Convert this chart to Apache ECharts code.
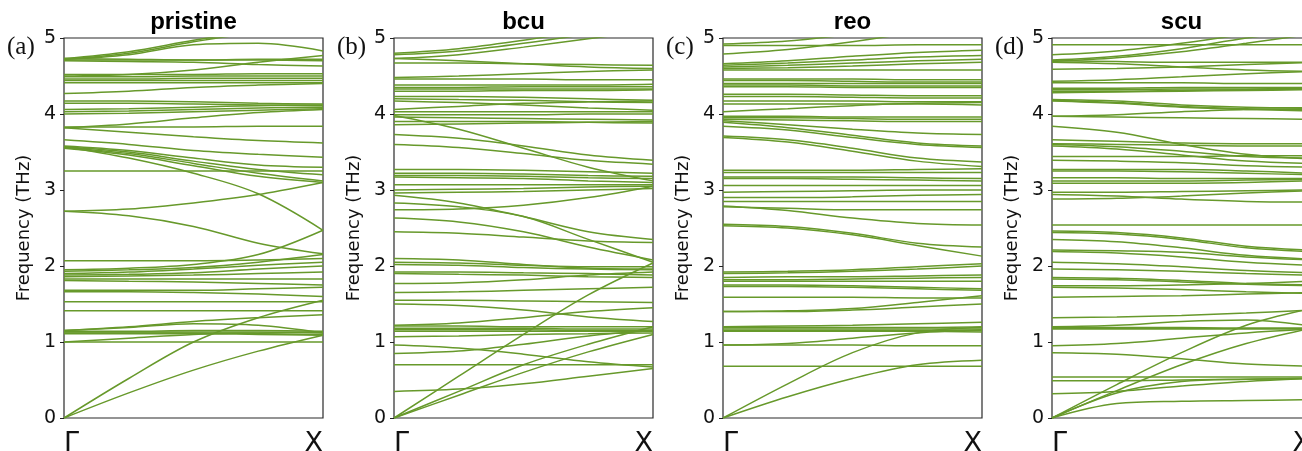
<!DOCTYPE html>
<html>
<head>
<meta charset="utf-8">
<script src="https://cdn.jsdelivr.net/npm/echarts@6/dist/echarts.min.js"></script>
<style>
  html, body { margin: 0; padding: 0; background: #fff; }
  #chart { width: 1302px; height: 451px; }
</style>
</head>
<body>
<div id="chart"></div>
<script>
// k-path sample positions (fraction of Γ -> X)
const kx = [0, 0.25, 0.5, 0.75, 1];
const kLabels = ["Γ", "X"];
const yTicks = [0, 1, 2, 3, 4, 5];
const panelTitles = ["pristine", "bcu", "reo", "scu"];
const panelLetters = ["(a)", "(b)", "(c)", "(d)"];

// band frequencies (THz) read at each kx
const pristine = [
    [4.73, 4.82, 4.97, 5.10, 5.20],
    [4.72, 4.80, 4.95, 5.08, 5.20],
    [4.72, 4.78, 4.91, 4.93, 4.83],
    [4.71, 4.71, 4.71, 4.71, 4.70],
    [4.73, 4.72, 4.71, 4.72, 4.72],
    [4.70, 4.69, 4.68, 4.65, 4.63],
    [4.50, 4.52, 4.58, 4.68, 4.77],
    [4.52, 4.52, 4.52, 4.53, 4.53],
    [4.49, 4.49, 4.50, 4.50, 4.50],
    [4.46, 4.46, 4.47, 4.47, 4.47],
    [4.44, 4.44, 4.44, 4.44, 4.44],
    [4.41, 4.41, 4.41, 4.41, 4.41],
    [4.27, 4.30, 4.35, 4.38, 4.40],
    [4.17, 4.17, 4.16, 4.14, 4.13],
    [4.14, 4.14, 4.13, 4.12, 4.11],
    [4.06, 4.07, 4.09, 4.11, 4.12],
    [4.03, 4.04, 4.06, 4.08, 4.09],
    [4.00, 4.01, 4.03, 4.05, 4.07],
    [3.82, 3.87, 3.95, 4.02, 4.06],
    [3.83, 3.83, 3.83, 3.84, 3.84],
    [3.82, 3.76, 3.70, 3.65, 3.62],
    [3.66, 3.60, 3.52, 3.47, 3.43],
    [3.58, 3.52, 3.42, 3.33, 3.30],
    [3.57, 3.50, 3.38, 3.27, 3.20],
    [3.56, 3.48, 3.35, 3.22, 3.12],
    [3.55, 3.46, 3.32, 3.18, 3.10],
    [3.57, 3.42, 3.22, 2.95, 2.47],
    [3.25, 3.25, 3.25, 3.25, 3.25],
    [2.72, 2.75, 2.83, 2.94, 3.10],
    [2.72, 2.66, 2.52, 2.30, 2.16],
    [2.07, 2.07, 2.07, 2.08, 2.10],
    [1.95, 1.97, 2.02, 2.15, 2.47],
    [1.93, 1.95, 1.98, 2.05, 2.15],
    [1.90, 1.92, 1.96, 2.01, 2.05],
    [1.88, 1.89, 1.91, 1.96, 2.00],
    [1.86, 1.87, 1.88, 1.90, 1.92],
    [1.83, 1.83, 1.83, 1.83, 1.83],
    [1.81, 1.80, 1.79, 1.77, 1.75],
    [1.68, 1.68, 1.68, 1.70, 1.72],
    [1.66, 1.66, 1.65, 1.63, 1.60],
    [1.53, 1.53, 1.53, 1.53, 1.53],
    [1.41, 1.41, 1.41, 1.41, 1.41],
    [1.15, 1.20, 1.27, 1.32, 1.36],
    [1.15, 1.19, 1.24, 1.22, 1.12],
    [1.14, 1.14, 1.15, 1.15, 1.14],
    [1.13, 1.13, 1.13, 1.13, 1.12],
    [1.12, 1.12, 1.12, 1.11, 1.10],
    [1.11, 1.11, 1.11, 1.10, 1.09],
    [1.00, 1.05, 1.10, 1.12, 1.13],
    [1.00, 1.00, 1.00, 1.00, 1.00],
    [0.00, 0.33, 0.63, 0.88, 1.09],
    [0.00, 0.52, 1.00, 1.32, 1.55]
];

const bcu = [
    [4.80, 4.86, 4.97, 5.10, 5.20],
    [4.78, 4.83, 4.93, 5.05, 5.15],
    [4.73, 4.78, 4.88, 4.99, 5.10],
    [4.67, 4.67, 4.66, 4.65, 4.64],
    [4.73, 4.70, 4.66, 4.62, 4.60],
    [4.48, 4.50, 4.53, 4.56, 4.58],
    [4.46, 4.46, 4.46, 4.45, 4.45],
    [4.38, 4.38, 4.38, 4.38, 4.39],
    [4.35, 4.35, 4.36, 4.36, 4.36],
    [4.33, 4.33, 4.33, 4.33, 4.33],
    [4.30, 4.30, 4.31, 4.31, 4.32],
    [4.23, 4.23, 4.22, 4.20, 4.18],
    [4.20, 4.19, 4.18, 4.16, 4.15],
    [4.17, 4.15, 4.12, 4.08, 4.05],
    [4.06, 4.10, 4.14, 4.16, 4.17],
    [4.03, 4.03, 4.03, 4.03, 4.03],
    [3.99, 3.99, 3.99, 4.00, 4.00],
    [3.96, 3.95, 3.94, 3.93, 3.92],
    [3.90, 3.90, 3.90, 3.89, 3.88],
    [3.86, 3.87, 3.88, 3.89, 3.90],
    [3.98, 3.80, 3.55, 3.30, 3.12],
    [3.73, 3.68, 3.58, 3.46, 3.39],
    [3.60, 3.56, 3.48, 3.39, 3.34],
    [3.27, 3.27, 3.26, 3.24, 3.22],
    [3.22, 3.22, 3.21, 3.19, 3.18],
    [3.19, 3.19, 3.18, 3.16, 3.15],
    [3.17, 3.16, 3.15, 3.12, 3.10],
    [3.07, 3.07, 3.07, 3.07, 3.07],
    [3.00, 3.01, 3.02, 3.04, 3.05],
    [2.96, 2.97, 2.98, 3.00, 3.02],
    [2.93, 2.83, 2.65, 2.45, 2.35],
    [2.83, 2.78, 2.65, 2.35, 2.05],
    [2.74, 2.75, 2.80, 2.90, 3.05],
    [2.63, 2.58, 2.45, 2.25, 2.08],
    [2.45, 2.43, 2.38, 2.33, 2.31],
    [2.10, 2.08, 2.02, 1.97, 1.96],
    [2.05, 2.04, 2.01, 1.99, 1.99],
    [2.02, 2.01, 1.98, 1.96, 1.95],
    [1.92, 1.92, 1.91, 1.90, 1.88],
    [1.90, 1.89, 1.88, 1.86, 1.85],
    [1.77, 1.78, 1.82, 1.88, 1.92],
    [1.65, 1.66, 1.68, 1.70, 1.72],
    [1.55, 1.55, 1.54, 1.53, 1.52],
    [1.50, 1.48, 1.42, 1.33, 1.27],
    [1.22, 1.25, 1.32, 1.40, 1.45],
    [1.21, 1.21, 1.20, 1.20, 1.20],
    [1.18, 1.18, 1.18, 1.17, 1.17],
    [1.16, 1.16, 1.16, 1.15, 1.15],
    [1.14, 1.14, 1.14, 1.14, 1.14],
    [1.07, 1.08, 1.10, 1.11, 1.12],
    [0.96, 0.92, 0.84, 0.74, 0.67],
    [0.85, 0.88, 0.97, 1.08, 1.15],
    [0.70, 0.70, 0.70, 0.70, 0.70],
    [0.35, 0.38, 0.45, 0.55, 0.65],
    [0.00, 0.55, 1.10, 1.62, 2.04],
    [0.00, 0.35, 0.70, 0.97, 1.20],
    [0.00, 0.30, 0.60, 0.87, 1.10]
];

const reo = [
    [4.92, 4.96, 5.05, 5.15, 5.20],
    [4.79, 4.85, 4.95, 5.08, 5.20],
    [4.90, 4.90, 4.90, 4.91, 4.91],
    [4.66, 4.70, 4.76, 4.81, 4.84],
    [4.64, 4.67, 4.71, 4.75, 4.77],
    [4.62, 4.64, 4.67, 4.70, 4.72],
    [4.60, 4.61, 4.63, 4.66, 4.68],
    [4.58, 4.58, 4.58, 4.58, 4.58],
    [4.46, 4.46, 4.46, 4.45, 4.45],
    [4.44, 4.44, 4.43, 4.42, 4.42],
    [4.40, 4.40, 4.40, 4.40, 4.40],
    [4.38, 4.38, 4.37, 4.37, 4.37],
    [4.36, 4.36, 4.35, 4.35, 4.35],
    [4.26, 4.26, 4.25, 4.24, 4.24],
    [4.23, 4.23, 4.22, 4.21, 4.21],
    [4.17, 4.17, 4.17, 4.16, 4.16],
    [4.13, 4.13, 4.13, 4.13, 4.12],
    [4.03, 4.07, 4.11, 4.14, 4.15],
    [3.97, 3.97, 3.96, 3.96, 3.96],
    [3.95, 3.95, 3.94, 3.93, 3.93],
    [3.93, 3.92, 3.91, 3.90, 3.90],
    [3.91, 3.86, 3.80, 3.75, 3.73],
    [3.89, 3.82, 3.72, 3.62, 3.58],
    [3.84, 3.79, 3.69, 3.60, 3.56],
    [3.71, 3.66, 3.55, 3.42, 3.37],
    [3.69, 3.63, 3.51, 3.38, 3.31],
    [3.26, 3.26, 3.26, 3.27, 3.28],
    [3.23, 3.23, 3.23, 3.23, 3.23],
    [3.17, 3.17, 3.17, 3.16, 3.15],
    [3.15, 3.15, 3.14, 3.13, 3.12],
    [3.06, 3.06, 3.06, 3.06, 3.06],
    [2.97, 2.98, 2.99, 3.00, 3.00],
    [2.90, 2.90, 2.91, 2.93, 2.94],
    [2.85, 2.85, 2.85, 2.85, 2.85],
    [2.78, 2.76, 2.74, 2.74, 2.74],
    [2.79, 2.73, 2.63, 2.56, 2.54],
    [2.55, 2.52, 2.43, 2.30, 2.25],
    [2.53, 2.50, 2.41, 2.27, 2.13],
    [1.92, 1.93, 1.95, 1.99, 2.03],
    [1.90, 1.91, 1.93, 1.96, 2.00],
    [1.85, 1.86, 1.86, 1.87, 1.88],
    [1.82, 1.82, 1.83, 1.84, 1.85],
    [1.80, 1.80, 1.80, 1.80, 1.80],
    [1.75, 1.75, 1.74, 1.72, 1.70],
    [1.73, 1.73, 1.72, 1.70, 1.68],
    [1.59, 1.59, 1.59, 1.58, 1.58],
    [1.40, 1.41, 1.44, 1.52, 1.61],
    [1.40, 1.40, 1.42, 1.46, 1.50],
    [1.20, 1.21, 1.22, 1.24, 1.26],
    [1.19, 1.19, 1.19, 1.19, 1.20],
    [1.17, 1.17, 1.17, 1.17, 1.17],
    [1.15, 1.15, 1.15, 1.15, 1.15],
    [1.14, 1.14, 1.14, 1.14, 1.13],
    [0.96, 0.98, 1.05, 1.12, 1.16],
    [0.96, 0.96, 0.96, 0.95, 0.95],
    [0.68, 0.68, 0.68, 0.68, 0.68],
    [0.00, 0.45, 0.86, 1.12, 1.19],
    [0.00, 0.28, 0.52, 0.70, 0.76]
];

const scu = [
    [4.91, 4.91, 4.91, 4.91, 4.91],
    [4.78, 4.83, 4.93, 5.05, 5.15],
    [4.71, 4.76, 4.86, 5.00, 5.10],
    [4.69, 4.74, 4.82, 4.93, 5.05],
    [4.70, 4.69, 4.68, 4.68, 4.68],
    [4.68, 4.66, 4.62, 4.58, 4.56],
    [4.59, 4.60, 4.62, 4.65, 4.68],
    [4.43, 4.45, 4.49, 4.53, 4.56],
    [4.41, 4.41, 4.41, 4.40, 4.40],
    [4.34, 4.34, 4.35, 4.35, 4.35],
    [4.32, 4.32, 4.33, 4.33, 4.34],
    [4.30, 4.30, 4.31, 4.32, 4.33],
    [4.28, 4.29, 4.30, 4.31, 4.32],
    [4.19, 4.17, 4.12, 4.09, 4.08],
    [4.18, 4.15, 4.10, 4.07, 4.06],
    [4.17, 4.14, 4.09, 4.06, 4.04],
    [3.97, 3.99, 4.03, 4.06, 4.07],
    [3.97, 3.96, 3.95, 3.94, 3.93],
    [3.84, 3.76, 3.60, 3.47, 3.41],
    [3.66, 3.64, 3.62, 3.61, 3.61],
    [3.61, 3.60, 3.59, 3.58, 3.58],
    [3.60, 3.57, 3.51, 3.44, 3.42],
    [3.58, 3.54, 3.46, 3.38, 3.35],
    [3.44, 3.44, 3.44, 3.45, 3.45],
    [3.39, 3.38, 3.36, 3.32, 3.30],
    [3.27, 3.27, 3.27, 3.25, 3.22],
    [3.25, 3.25, 3.24, 3.22, 3.20],
    [3.16, 3.16, 3.15, 3.15, 3.15],
    [3.12, 3.12, 3.12, 3.13, 3.14],
    [3.09, 3.09, 3.09, 3.10, 3.12],
    [2.97, 2.97, 2.98, 2.99, 3.00],
    [2.94, 2.92, 2.88, 2.85, 2.84],
    [2.88, 2.89, 2.92, 2.96, 2.99],
    [2.54, 2.54, 2.54, 2.54, 2.54],
    [2.46, 2.44, 2.37, 2.26, 2.21],
    [2.44, 2.42, 2.35, 2.24, 2.19],
    [2.35, 2.32, 2.24, 2.14, 2.09],
    [2.21, 2.20, 2.18, 2.12, 2.08],
    [2.19, 2.17, 2.12, 2.05, 2.01],
    [2.05, 2.03, 1.99, 1.94, 1.91],
    [1.96, 1.95, 1.93, 1.90, 1.88],
    [1.85, 1.84, 1.81, 1.77, 1.75],
    [1.83, 1.82, 1.79, 1.76, 1.74],
    [1.74, 1.74, 1.75, 1.77, 1.80],
    [1.72, 1.71, 1.69, 1.66, 1.64],
    [1.59, 1.60, 1.61, 1.63, 1.65],
    [1.32, 1.33, 1.35, 1.38, 1.42],
    [1.20, 1.22, 1.27, 1.29, 1.21],
    [1.19, 1.19, 1.19, 1.18, 1.18],
    [1.18, 1.18, 1.18, 1.18, 1.18],
    [1.17, 1.17, 1.17, 1.17, 1.17],
    [0.95, 0.98, 1.05, 1.12, 1.17],
    [0.86, 0.84, 0.78, 0.71, 0.68],
    [0.54, 0.54, 0.54, 0.54, 0.54],
    [0.49, 0.49, 0.50, 0.51, 0.52],
    [0.32, 0.35, 0.42, 0.48, 0.52],
    [0.00, 0.19, 0.22, 0.23, 0.24],
    [0.00, 0.33, 0.48, 0.51, 0.52],
    [0.00, 0.36, 0.70, 0.98, 1.18],
    [0.00, 0.44, 0.86, 1.22, 1.44]
];

const panels = [pristine, bcu, reo, scu];

// =========================
// LAYOUT
// =========================
const LINE_COLOR = "#67992b";
const GRID_LEFT = [64, 394, 723, 1052];
const GRID_TOP = 38;
const GRID_W = 259;
const GRID_H = 380;

const chart = echarts.init(document.getElementById("chart"));

const grid = [];
const xAxis = [];
const yAxis = [];
const series = [];
const graphic = [];

panels.forEach((bands, p) => {
    // last panel runs past the right edge of the canvas, as in the figure
    grid.push({
        left: GRID_LEFT[p],
        top: GRID_TOP,
        width: GRID_W,
        height: GRID_H,
        outerBoundsMode: "none",
        show: true,
        borderColor: "#2a2a2a",
        borderWidth: 1.2,
        backgroundColor: "transparent"
    });

    xAxis.push({
        type: "value",
        gridIndex: p,
        min: 0,
        max: 1,
        interval: 1,
        axisLine: { show: false },
        axisTick: { show: false },
        splitLine: { show: false },
        axisLabel: {
            formatter: v => (v === 0 ? kLabels[0] : kLabels[1]),
            fontFamily: "DejaVu Sans",
            fontSize: 27,
            color: "#111",
            margin: 12,
            alignMinLabel: "left",
            alignMaxLabel: "right"
        }
    });

    yAxis.push({
        type: "value",
        gridIndex: p,
        min: yTicks[0],
        max: yTicks[yTicks.length - 1],
        interval: 1,
        name: "Frequency (THz)",
        nameLocation: "middle",
        nameGap: 31,
        nameTextStyle: { fontFamily: "DejaVu Sans", fontSize: 18, color: "#111" },
        axisLine: { show: false },
        axisTick: { show: true, length: 4, inside: false, lineStyle: { color: "#222", width: 1 } },
        splitLine: { show: false },
        axisLabel: { fontFamily: "DejaVu Sans", fontSize: 19, color: "#111", margin: 8 }
    });

    bands.forEach((band, b) => {
        series.push({
            name: panelTitles[p] + "-" + b,
            type: "line",
            xAxisIndex: p,
            yAxisIndex: p,
            data: kx.map((x, i) => [x, band[i]]),
            showSymbol: false,
            symbol: "none",
            smooth: 0.35,
            silent: true,
            clip: true,
            lineStyle: { color: LINE_COLOR, width: 1.5 }
        });
    });

    // panel title
    graphic.push({
        type: "text",
        x: GRID_LEFT[p] + GRID_W / 2,
        y: 10,
        style: {
            text: panelTitles[p],
            fontFamily: "Liberation Sans",
            fontWeight: "bold",
            fontSize: 24,
            fill: "#000",
            textAlign: "center",
            textVerticalAlign: "top"
        }
    });

    // panel letter
    graphic.push({
        type: "text",
        x: GRID_LEFT[p] - 57,
        y: 35,
        style: {
            text: panelLetters[p],
            fontFamily: "Liberation Serif",
            fontSize: 25,
            fill: "#111",
            textAlign: "left",
            textVerticalAlign: "top"
        }
    });
});

chart.setOption({
    backgroundColor: "#fff",
    animation: false,
    grid,
    xAxis,
    yAxis,
    series,
    graphic
});
</script>
</body>
</html>
